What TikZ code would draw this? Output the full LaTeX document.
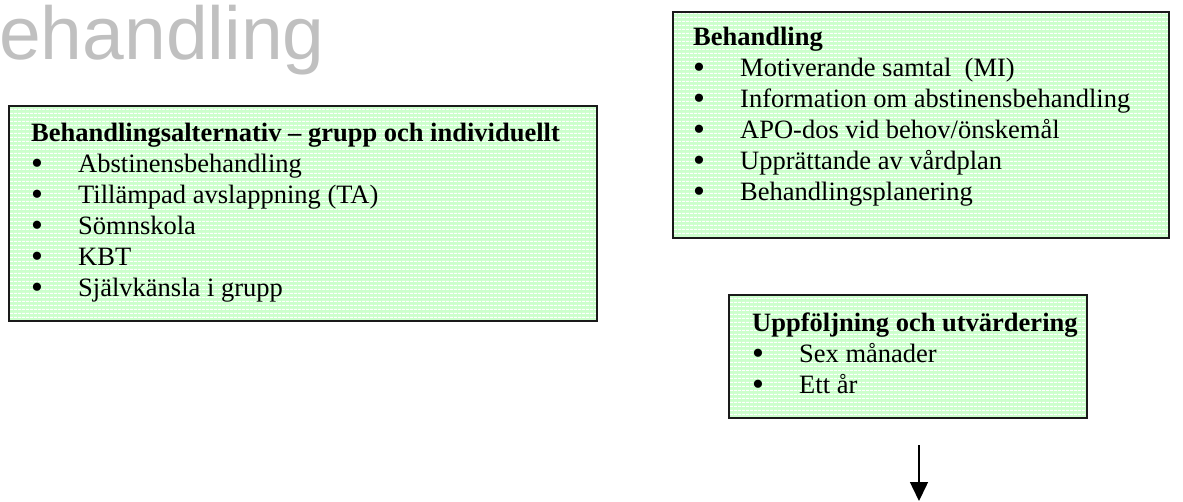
\documentclass[tikz,border=0pt]{standalone}
\usepackage{fontspec}
\setmainfont{Liberation Serif}
\newfontfamily\headfont{Liberation Sans}
\usetikzlibrary{patterns.meta,arrows.meta,positioning}

\definecolor{boxgreen}{HTML}{CCFFCC}
\definecolor{headgray}{HTML}{C0C0C0}
\definecolor{boxline}{HTML}{1A1A1A}

% one bullet line inside a box
\newcommand{\bitem}[2][47pt]{\makebox[#1][l]{\raisebox{-1.5pt}{\fontsize{34}{31}\selectfont\textbullet}}#2}

\tikzset{
    panel/.style={draw=boxline, line width=2pt, inner sep=0pt, anchor=north west,
        preaction={fill=boxgreen},
        pattern={Lines[distance=4pt,line width=1.1pt]}, pattern color=white},
    paneltext/.style={anchor=north west, align=left, inner sep=0pt,
        font=\fontsize{26.5}{31}\selectfont},
    headtext/.style={anchor=base west, inner sep=0pt, text=headgray,
        font=\headfont\fontsize{75}{75}\selectfont},
    flow/.style={-{Triangle[width=18pt,length=19pt]}, line width=1.5pt, black},
}

\begin{document}
\begin{tikzpicture}[x=1pt,y=-1pt]
    \useasboundingbox (0,0) rectangle (1183,501);

    % the cut title in the corner
    \node[headtext] (heading) at (-1,59) {ehandling};

    % draw the striped boxes
    \foreach \name/\x/\y/\w/\h in {alt/8/105/588/215, beh/672/11/496/226, upp/728/294/358/123}
        \node[panel, minimum width=\w pt, minimum height=\h pt] (\name) at (\x,\y) {};

    % the texts of the boxes
    \node[paneltext] (alttext) at (31,123) {\textbf{Behandlingsalternativ -- grupp och individuellt}\\
        \bitem{Abstinensbehandling}\\
        \bitem{Tillämpad avslappning (TA)}\\
        \bitem{Sömnskola}\\
        \bitem{KBT}\\
        \bitem{Självkänsla i grupp}};

    \node[paneltext] (behtext) at (693,27) {\textbf{Behandling}\\
        \bitem{Motiverande samtal~ (MI)}\\
        \bitem{Information om abstinensbehandling}\\
        \bitem{APO-dos vid behov/önskemål}\\
        \bitem{Upprättande av vårdplan}\\
        \bitem{Behandlingsplanering}};

    \node[paneltext] (upptext) at (752,313) {\textbf{Uppföljning och utvärdering}\\
        \bitem{Sex månader}\\
        \bitem{Ett år}};

    % the arrow below the last box
    \coordinate (arrowtop) at (919,445);
    \coordinate (arrowtip) at (919,501);
    \draw[flow] (arrowtop) -- (arrowtip);
\end{tikzpicture}
\end{document}
